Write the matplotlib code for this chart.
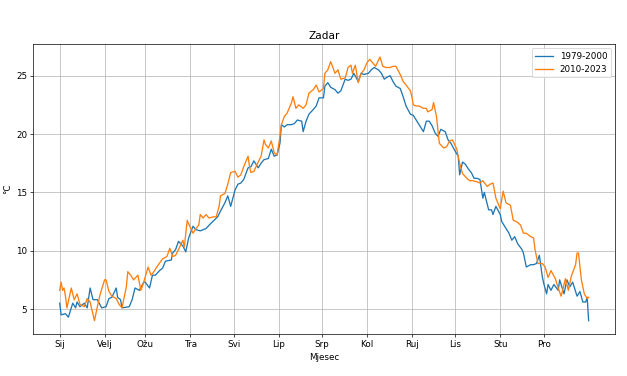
import matplotlib
matplotlib.use("Agg")
from matplotlib import pyplot as plt

# dan u godini -> temperatura (°C), očitano s grafa
dani_old = [0, 1, 4, 6, 9, 11, 12, 14, 17, 19,
            21, 23, 26, 29, 32, 34, 36, 39, 40, 42,
            43, 48, 50, 52, 55, 58, 59, 62, 64, 66,
            69, 71, 73, 77, 78, 80, 82, 85, 87, 89,
            92, 94, 97, 101, 104, 109, 111, 114, 116, 118,
            121, 123, 125, 127, 130, 132, 134, 137, 139, 141,
            144, 146, 148, 150, 152, 153, 155, 157, 160, 162,
            164, 167, 168, 170, 172, 175, 177, 179, 182, 183,
            185, 187, 190, 192, 194, 197, 199, 201, 203, 206,
            208, 210, 213, 215, 217, 220, 222, 224, 225, 228,
            230, 232, 235, 237, 239, 242, 244, 246, 248, 251,
            253, 255, 257, 259, 261, 263, 266, 268, 270, 273,
            275, 276, 278, 280, 282, 284, 286, 288, 290, 292,
            293, 296, 298, 299, 301, 304, 305, 307, 310, 312,
            314, 316, 319, 320, 322, 325, 327, 329, 331, 333,
            334, 336, 337, 339, 341, 344, 345, 348, 350, 352,
            354, 357, 359, 361, 363, 364, 365]
temp_old = [5.5, 4.5, 4.6, 4.3, 5.5, 5.1, 5.6, 5.2, 5.5, 5.1,
            6.8, 5.8, 5.8, 5.1, 5.2, 5.9, 6.0, 6.8, 6.0, 5.8,
            5.1, 5.2, 5.8, 6.8, 6.6, 7.3, 7.3, 6.8, 7.9, 7.9,
            8.3, 8.5, 9.1, 9.2, 9.8, 10.1, 10.8, 10.4, 9.9, 11.1,
            12.1, 11.8, 11.7, 11.9, 12.3, 12.9, 13.4, 14.1, 14.7, 13.8,
            15.2, 15.7, 15.8, 16.1, 17.1, 17.2, 17.7, 17.1, 17.5, 17.8,
            17.9, 18.7, 18.1, 18.2, 19.2, 20.8, 20.6, 20.8, 20.8, 20.9,
            21.2, 21.1, 20.2, 21.1, 21.7, 22.1, 22.4, 23.1, 23.1, 24.1,
            24.4, 24.0, 23.8, 23.5, 23.7, 24.7, 24.6, 24.7, 25.2, 24.5,
            25.2, 25.1, 25.2, 25.5, 25.7, 25.5, 25.2, 24.7, 24.8, 25.0,
            24.5, 24.1, 23.9, 23.2, 22.4, 21.7, 21.6, 21.2, 20.8, 20.2,
            21.1, 21.1, 20.7, 20.1, 19.8, 20.4, 20.2, 19.5, 19.2, 18.5,
            18.1, 16.5, 17.6, 17.4, 17.0, 16.7, 16.2, 16.2, 16.1, 14.5,
            15.0, 13.5, 13.5, 13.1, 13.8, 13.1, 12.5, 12.1, 11.5, 10.9,
            11.2, 10.6, 10.1, 9.8, 8.6, 8.8, 8.8, 8.9, 9.6, 7.8,
            7.2, 6.3, 7.1, 6.6, 7.1, 6.6, 7.5, 6.3, 7.5, 6.9,
            7.3, 6.1, 6.5, 5.6, 5.6, 6.0, 4.0]

dani_new = [0, 1, 2, 3, 4, 5, 8, 10, 12, 14,
            17, 19, 21, 24, 26, 28, 31, 32, 34, 36,
            39, 41, 43, 46, 47, 49, 51, 54, 56, 58,
            61, 63, 65, 67, 71, 74, 76, 78, 80, 82,
            85, 86, 88, 89, 92, 94, 96, 97, 99, 101,
            103, 106, 108, 110, 111, 114, 116, 118, 121, 123,
            125, 127, 130, 131, 132, 134, 137, 139, 141, 142,
            144, 146, 148, 150, 152, 153, 155, 157, 160, 161,
            163, 165, 168, 170, 172, 175, 177, 179, 182, 183,
            185, 187, 190, 192, 194, 197, 199, 201, 202, 204,
            206, 208, 210, 212, 214, 216, 218, 221, 223, 225,
            228, 230, 232, 235, 237, 239, 242, 243, 244, 246,
            248, 251, 253, 254, 257, 258, 260, 262, 265, 267,
            269, 271, 274, 276, 278, 281, 283, 285, 288, 290,
            292, 295, 297, 299, 301, 304, 306, 308, 311, 313,
            315, 318, 320, 322, 325, 327, 328, 330, 333, 335,
            337, 339, 342, 344, 346, 349, 351, 353, 356, 357,
            358, 360, 362, 364, 365]
temp_new = [6.6, 7.3, 6.6, 6.8, 6.1, 5.1, 6.8, 5.8, 6.3, 5.4,
            5.2, 5.9, 5.6, 4.0, 5.2, 6.3, 7.5, 7.5, 6.5, 6.1,
            5.9, 5.4, 5.1, 6.9, 8.2, 7.9, 7.5, 7.9, 6.6, 7.3,
            8.6, 7.9, 8.2, 8.6, 9.3, 9.5, 10.2, 9.5, 9.6, 10.1,
            10.9, 10.3, 12.6, 12.3, 11.5, 11.9, 12.2, 13.1, 12.8, 13.1,
            12.8, 12.9, 12.9, 13.8, 14.7, 14.9, 15.7, 16.7, 16.8, 16.3,
            16.5, 17.2, 18.1, 17.2, 16.7, 16.8, 17.6, 18.1, 19.5, 19.1,
            18.8, 19.4, 18.4, 18.2, 19.8, 20.8, 21.5, 21.8, 22.7, 23.2,
            22.2, 22.5, 22.2, 22.5, 23.5, 23.8, 24.2, 23.6, 23.9, 25.2,
            25.5, 26.2, 25.2, 25.5, 24.7, 24.8, 25.7, 25.9, 25.2, 25.9,
            24.4, 25.2, 25.5, 26.1, 26.4, 26.1, 25.8, 26.6, 25.8, 25.7,
            25.7, 25.8, 25.8, 25.1, 24.5, 24.2, 23.7, 23.2, 22.5, 22.4,
            22.4, 22.2, 22.2, 21.9, 22.1, 22.7, 21.5, 19.2, 18.8, 18.9,
            19.4, 19.5, 18.7, 17.5, 16.6, 16.2, 16.0, 16.0, 15.9, 15.8,
            16.0, 15.5, 15.7, 15.8, 14.5, 13.6, 15.1, 14.1, 13.9, 12.6,
            12.5, 12.2, 11.5, 11.5, 11.2, 11.1, 10.1, 8.9, 8.9, 8.6,
            7.7, 8.3, 7.6, 6.8, 6.1, 7.6, 6.6, 7.8, 8.8, 9.8,
            9.8, 7.5, 6.3, 5.9, 6.0]

mjeseci = ["Sij", "Velj", "Ožu", "Tra", "Svi", "Lip", "Srp", "Kol", "Ruj", "Lis", "Stu", "Pro"]
pocetak_mjeseca = [0, 31, 59, 90, 120, 151, 181, 212, 243, 273, 304, 334]

fig, ax = plt.subplots(figsize=(10, 6), dpi=62.7)
fig.subplots_adjust(left=0.053, right=0.981, top=0.883, bottom=0.112)
ax.plot(dani_old, temp_old, label="1979-2000")
ax.plot(dani_new, temp_new, label="2010-2023")

ax.set_xticks(pocetak_mjeseca)
ax.set_xticklabels(mjeseci)
ax.set_title("Zadar")
ax.set_xlabel("Mjesec")
ax.set_ylabel("°C")
ax.grid(True)
ax.legend(loc="upper right")

plt.savefig("out.png", dpi=62.7)
